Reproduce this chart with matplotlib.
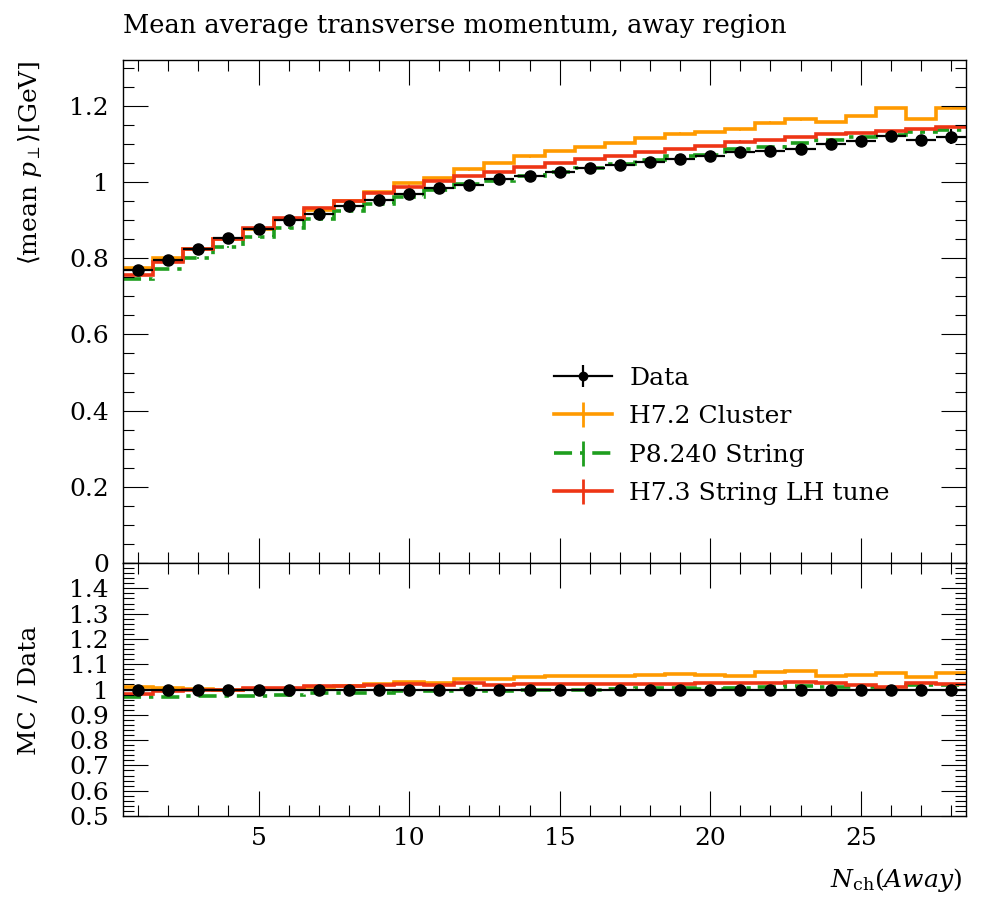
import numpy as np
import matplotlib
matplotlib.use("Agg")
import matplotlib.pyplot as plt
from matplotlib.lines import Line2D
from matplotlib.ticker import MultipleLocator, FuncFormatter, FixedLocator

plt.rcParams['font.family'] = ['DejaVu Serif']
plt.rcParams['mathtext.fontset'] = 'dejavuserif'

# bin centres of N_ch (away region)
nch = np.arange(1, 29)
edges = np.arange(0.5, 29.0, 1.0)

# measured mean <pT> [GeV] and its uncertainty
data = [0.768, 0.795, 0.823, 0.852, 0.876, 0.899, 0.917, 0.938, 0.954, 0.968,
        0.984, 0.992, 1.007, 1.016, 1.027, 1.036, 1.045, 1.053, 1.061, 1.068,
        1.079, 1.082, 1.086, 1.099, 1.108, 1.121, 1.109, 1.119]
data_err = [0.004, 0.003, 0.003, 0.003, 0.003, 0.003, 0.003, 0.003, 0.003, 0.003,
            0.003, 0.003, 0.003, 0.003, 0.003, 0.004, 0.004, 0.004, 0.005, 0.005,
            0.006, 0.006, 0.007, 0.008, 0.009, 0.010, 0.013, 0.020]

h72_cluster = [0.775, 0.800, 0.825, 0.851, 0.877, 0.902, 0.926, 0.951, 0.973, 0.996,
               1.011, 1.033, 1.049, 1.067, 1.082, 1.091, 1.102, 1.115, 1.127, 1.131,
               1.138, 1.156, 1.164, 1.158, 1.173, 1.195, 1.165, 1.194]
p8_string = [0.745, 0.771, 0.801, 0.829, 0.855, 0.880, 0.904, 0.924, 0.942, 0.961,
             0.979, 0.995, 1.003, 1.015, 1.025, 1.036, 1.048, 1.058, 1.067, 1.071,
             1.086, 1.091, 1.102, 1.109, 1.118, 1.123, 1.130, 1.137]
h73_string = [0.755, 0.791, 0.823, 0.850, 0.880, 0.906, 0.931, 0.951, 0.972, 0.988,
              1.002, 1.016, 1.027, 1.039, 1.049, 1.060, 1.069, 1.078, 1.086, 1.095,
              1.106, 1.111, 1.118, 1.126, 1.129, 1.134, 1.139, 1.145]
mc_err = 0.003

labels = ["Data", "H7.2 Cluster", "P8.240 String", "H7.3 String LH tune"]
c_orange = "#ff9a00"
c_green = "#1e9e1e"
c_red = "#ee3515"
green_dash = (0, (5, 2.2, 1.2, 2.2))
fs = 18

fig = plt.figure(figsize=(9.96, 9.0), dpi=100)
ax = fig.add_axes([0.1235, 0.3744, 0.8465, 0.5589])
axr = fig.add_axes([0.1235, 0.0933, 0.8465, 0.2811], sharex=ax)

d = np.array(data)
de = np.array(data_err)
series = [(h72_cluster, c_orange, '-'), (p8_string, c_green, green_dash), (h73_string, c_red, '-')]

for vals, col, ls in series:
    v = np.array(vals)
    ax.stairs(v, edges, baseline=None, color=col, lw=2.6, ls=ls)
    ax.errorbar(nch, v, yerr=mc_err, fmt='none', ecolor=col, elinewidth=1.2)
    axr.stairs(v / d, edges, baseline=None, color=col, lw=2.6, ls=ls)

ax.errorbar(nch, d, yerr=de, xerr=0.5, fmt='o', color='black', ms=8, elinewidth=1.6, zorder=5)
axr.errorbar(nch, d / d, yerr=de / d, xerr=0.5, fmt='o', color='black', ms=8, elinewidth=1.6, zorder=5)

fmt = FuncFormatter(lambda v, p: "%g" % round(v, 3))
for a in (ax, axr):
    a.set_xlim(0.5, 28.5)
    a.xaxis.set_major_locator(MultipleLocator(5))
    a.xaxis.set_minor_locator(MultipleLocator(1))
    a.tick_params(which='both', direction='in', top=True, right=True, width=0.8, labelsize=fs)
    a.tick_params(which='major', length=18)
    a.tick_params(which='minor', length=8)
    a.tick_params(axis='y', pad=10)
    a.tick_params(axis='x', pad=8)
    a.yaxis.set_major_formatter(fmt)
    for s in a.spines.values():
        s.set_linewidth(1.0)

ax.set_ylim(0, 1.32)
ax.yaxis.set_major_locator(MultipleLocator(0.2))
ax.yaxis.set_minor_locator(MultipleLocator(0.05))
ax.tick_params(axis='x', labelbottom=False)

axr.set_ylim(0.5, 1.5)
axr.yaxis.set_major_locator(FixedLocator(np.arange(0.5, 1.45, 0.1)))
axr.yaxis.set_minor_locator(MultipleLocator(0.02))

handles = [
    (Line2D([], [], color='black', lw=1.6), Line2D([], [], color='black', marker='|', ms=16, mew=1.6, ls='none'),
     Line2D([], [], color='black', marker='o', ms=6, ls='none')),
    (Line2D([], [], color=c_orange, lw=2.6), Line2D([], [], color=c_orange, marker='|', ms=18, mew=2, ls='none')),
    (Line2D([], [], color=c_green, lw=2.6, ls=green_dash), Line2D([], [], color=c_green, marker='|', ms=18, mew=2, ls='none')),
    (Line2D([], [], color=c_red, lw=2.6), Line2D([], [], color=c_red, marker='|', ms=18, mew=2, ls='none')),
]
ax.legend(handles, labels, loc='upper left', bbox_to_anchor=(0.485, 0.435), frameon=False,
          fontsize=fs, handlelength=2.3, labelspacing=0.62, handletextpad=0.7)

fig.text(0.1235, 1 - 25 / 900, "Mean average transverse momentum, away region", fontsize=18.5,
         ha='left', va='center')
fig.text(30 / 996, 1 - 60 / 900, r"$\langle$mean $p_\perp\rangle$[GeV]", fontsize=fs,
         rotation=90, ha='center', va='top')
fig.text(30 / 996, 1 - 690 / 900, "MC / Data", fontsize=fs, rotation=90, ha='center', va='center')
fig.text(0.966, 1 - 880 / 900, r"$N_{\mathrm{ch}}(Away)$", fontsize=fs, ha='right', va='center')

fig.savefig("out.png", dpi=100)
